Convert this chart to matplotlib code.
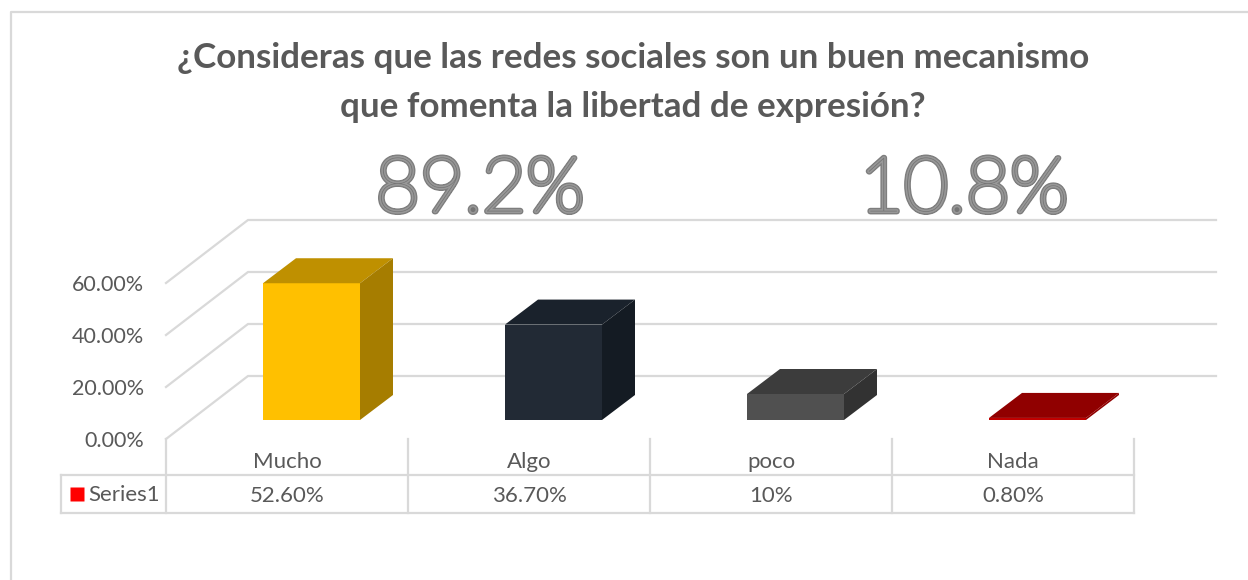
"""
plot.py

Pseudo-3D column chart with a data table underneath.
"""

import matplotlib
matplotlib.use("Agg")
import matplotlib.pyplot as plt
import matplotlib.patheffects as pe
from matplotlib.patches import Polygon
from matplotlib.transforms import blended_transform_factory

W, H = 1248, 580

# Data
categories = ["Mucho", "Algo", "poco", "Nada"]
values = [52.6, 36.7, 10, 0.8]
table_labels = ["52.60%", "36.70%", "10%", "0.80%"]
y_ticks = [0, 20, 40, 60]
y_tick_labels = ["0.00%", "20.00%", "40.00%", "60.00%"]
title_lines = ["¿Consideras que las redes sociales son un buen mecanismo",
               "que fomenta la libertad de expresión?"]
big_labels = ["89.2%", "10.8%"]
series_name = "Series1"

# Styles: front, top, side of each column
colors = [("#FFC000", "#BF9000", "#A67D00"),
          ("#222A35", "#1A222C", "#141B23"),
          ("#505050", "#3C3C3C", "#323232"),
          ("#C00000", "#900000", "#900000")]
GRID = "#D9D9D9"
TEXT = "#595959"
FONT = "Lato"

# Pixels per percent on the value axis, and depth of the floor
PCT = 2.6
BACK_X, BACK_Y = 82 / 242, 63 / PCT
BAR_X, BAR_Y = 97 / 242, 19 / PCT
BAR_W = 97 / 242
BAR_DX, BAR_DY = 33 / 242, 25 / PCT

fig = plt.figure(figsize=(W / 100, H / 100), dpi=100, facecolor="white")

# Overlay in pixel units for the frame, title and table rows
deco = fig.add_axes([0, 0, 1, 1])
deco.set_xlim(0, W)
deco.set_ylim(H, 0)
deco.axis("off")

# Front plane of the plot: x in categories, y in percent
ax = fig.add_axes([166 / W, (H - 439) / H, 968 / W, 60 * PCT / H])
ax.set_xlim(0, 4)
ax.set_ylim(0, 60)
ax.axis("off")
ax.patch.set_alpha(0)

# Chart frame
deco.plot([11, 11, W], [H, 12, 12], color=GRID, lw=1.6)

# Title
for line, y in zip(title_lines, [58, 107]):
    deco.text(633, y, line, ha="center", va="center", fontsize=25.2,
              fontweight="bold", color=TEXT, family=FONT)

# Walls and gridlines
for tick, label in zip(y_ticks, y_tick_labels):
    ax.plot([0, BACK_X, 4 + BACK_X], [tick, tick + BACK_Y, tick + BACK_Y],
            color=GRID, lw=1.6, clip_on=False, solid_joinstyle="miter")
    ax.text(-22 / 242, tick - 0.6, label, ha="right", va="center", fontsize=15.5,
            color=TEXT, family=FONT)

# Columns
for i, (value, (front, top, side)) in enumerate(zip(values, colors)):
    x0 = i + BAR_X
    x1 = x0 + BAR_W
    y0 = BAR_Y
    y1 = BAR_Y + value
    faces = [
        ([(x0, y0), (x1, y0), (x1, y1), (x0, y1)], front),
        ([(x0, y1), (x1, y1), (x1 + BAR_DX, y1 + BAR_DY),
          (x0 + BAR_DX, y1 + BAR_DY)], top),
        ([(x1, y0), (x1 + BAR_DX, y0 + BAR_DY),
          (x1 + BAR_DX, y1 + BAR_DY), (x1, y1)], side),
    ]
    for points, color in faces:
        ax.add_patch(Polygon(points, closed=True, facecolor=color,
                             edgecolor="none", clip_on=False, zorder=3))

# Bevelled percentages above the plot
bevel = [pe.withStroke(linewidth=4.2, foreground="#7E7E7E"),
         pe.Stroke(linewidth=2.2, foreground="#989898"), pe.Normal()]
for label, x in zip(big_labels, [480, 964]):
    deco.text(x, 191, label, ha="center", va="center", fontsize=55,
              fontweight="light", color="#757575", family=FONT,
              path_effects=bevel, zorder=5)

# Data table
row_x = blended_transform_factory(ax.transData, deco.transData)
for i in range(len(categories) + 1):
    deco.plot([i, i], [439, 513], color=GRID, lw=1.6, transform=row_x,
              clip_on=False)
for y in [475, 513]:
    deco.plot([61, 1134], [y, y], color=GRID, lw=1.6)
deco.plot([61, 61], [475, 513], color=GRID, lw=1.6)

for i, (category, label) in enumerate(zip(categories, table_labels)):
    deco.text(i + 0.5, 462, category, ha="center", va="center", fontsize=16,
              color=TEXT, family=FONT, transform=row_x)
    deco.text(i + 0.5, 496, label, ha="center", va="center", fontsize=16,
              color=TEXT, family=FONT, transform=row_x)

deco.plot([77], [494], marker="s", ms=10, color="#FF0000", mec="none")
deco.text(88, 495, series_name, ha="left", va="center", fontsize=16,
          color=TEXT, family=FONT)

fig.savefig("out.png", dpi=100, facecolor="white")
